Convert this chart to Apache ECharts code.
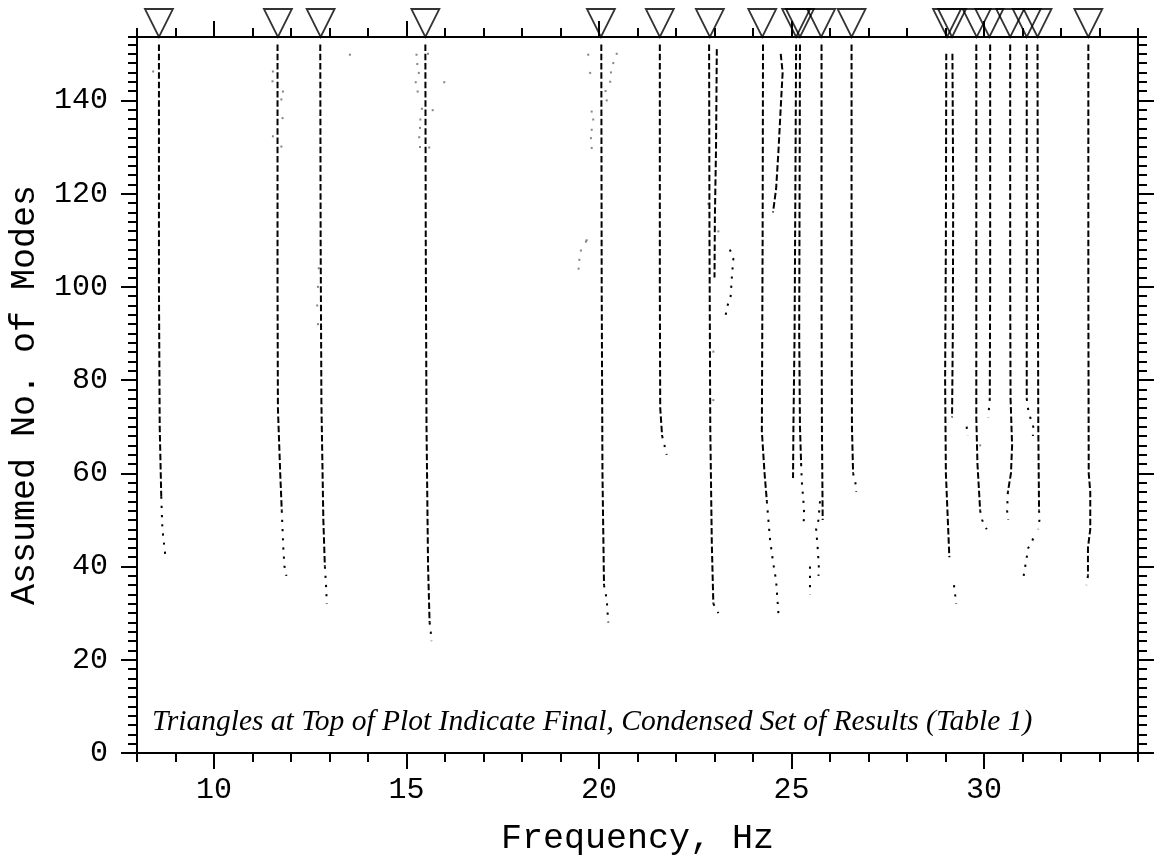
<!DOCTYPE html>
<html>
<head>
<meta charset="utf-8">
<title>Assumed No. of Modes vs Frequency</title>
<script src="https://cdn.jsdelivr.net/npm/echarts@6.0.0/dist/echarts.min.js"></script>
<style>
  html, body { margin: 0; padding: 0; background: #fff; }
  #chart { width: 1154px; height: 860px; }
</style>
</head>
<body>
<div id="chart"></div>
<script>
// axis ranges and labelled ticks
var xMin = 8, xMax = 34;
var yMin = 0, yMax = 153.6;
var xMajorTicks = [10, 15, 20, 25, 30];
var yMajorTicks = [0, 20, 40, 60, 80, 100, 120, 140];

// final condensed set of results (triangles at top)
var finalFreqs = [8.57, 11.66, 12.77, 15.49, 20.05, 21.58, 22.88, 24.24, 25.12, 25.22,
                  25.77, 26.56, 29.04, 29.17, 29.81, 30.14, 30.68, 31.11, 31.39, 32.71];

// mode traces [frequency Hz, assumed no. of modes]; trace = converged (dashed), tail = dotted
var traceA = [[8.57,152],[8.57,100],[8.59,70],[8.63,55]];
var tailA  = [[8.63,55],[8.66,48],[8.70,45],[8.74,42]];
var traceB = [[11.65,152],[11.65,100],[11.66,74],[11.72,60],[11.76,52]];
var tailB  = [[11.76,52],[11.80,44],[11.83,40],[11.88,38]];
var traceC = [[12.76,152],[12.77,110],[12.79,75],[12.84,50],[12.88,40]];
var tailC  = [[12.88,40],[12.91,36],[12.93,32]];
var traceD = [[15.49,152],[15.50,110],[15.52,70],[15.56,40],[15.60,28]];
var tailD  = [[15.60,28],[15.63,26],[15.65,24]];
var traceE = [[20.06,152],[20.07,100],[20.09,60],[20.13,36]];
var tailE  = [[20.13,36],[20.20,33],[20.24,28]];
var traceF = [[21.58,152],[21.58,100],[21.59,74],[21.64,68]];
var tailF  = [[21.64,68],[21.70,66],[21.76,64]];
var traceG = [[22.86,152],[22.87,110],[22.89,70],[22.93,45],[22.97,32]];
var tailG  = [[22.97,32],[23.04,31],[23.10,30]];
var traceG2 = [[23.06,151],[23.04,130],[23.01,115],[23.00,102]];
var tailG3 = [[23.40,108],[23.49,106],[23.45,102],[23.42,98],[23.34,96],[23.29,94]];
var traceH = [[24.26,152],[24.25,110],[24.23,69],[24.30,60],[24.36,54]];
var tailH  = [[24.36,54],[24.44,46],[24.52,41],[24.60,37],[24.66,30]];
var traceI = [[24.72,150],[24.77,146],[24.73,140],[24.66,129],[24.60,121],[24.52,116]];
var traceJ = [[25.12,152],[25.10,120],[25.08,90],[25.05,70],[25.04,59]];
var traceK = [[25.22,152],[25.21,120],[25.20,90],[25.22,70],[25.25,62]];
var tailK  = [[25.25,62],[25.27,58],[25.31,54],[25.33,51],[25.31,49]];
var traceL = [[25.78,152],[25.78,100],[25.79,70],[25.81,50]];
var tailL  = [[25.74,54],[25.70,50],[25.64,48],[25.68,44],[25.71,40],[25.70,38]];
var tailL2 = [[25.48,40],[25.48,36],[25.48,34]];
var traceM = [[26.56,152],[26.56,100],[26.57,70],[26.60,60]];
var tailM  = [[26.60,60],[26.66,58],[26.68,56]];
var traceN1 = [[29.02,150],[29.01,110],[28.99,80],[29.01,60],[29.06,50],[29.10,42]];
var traceN2 = [[29.18,150],[29.20,120],[29.19,90],[29.17,72]];
var tailN2 = [[29.22,36],[29.25,34],[29.28,32]];
var traceO = [[29.80,152],[29.80,100],[29.80,72],[29.83,62],[29.90,52]];
var tailO  = [[29.90,52],[29.95,50],[30.07,48]];
var tailO2 = [[29.55,70],[29.57,68]];
var traceP = [[30.16,152],[30.16,100],[30.15,76]];
var tailP  = [[30.15,76],[30.13,74],[30.11,72]];
var traceQ = [[30.68,152],[30.68,100],[30.69,76],[30.73,66],[30.70,60],[30.62,56]];
var tailQ  = [[30.62,56],[30.60,52],[30.63,50]];
var traceR = [[31.11,152],[31.11,100],[31.11,76]];
var tailR  = [[31.11,76],[31.14,74],[31.20,72],[31.28,70],[31.27,68]];
var tailR2 = [[31.28,46],[31.15,44],[31.03,38]];
var traceS = [[31.39,152],[31.40,100],[31.41,70],[31.43,52]];
var tailS  = [[31.43,52],[31.44,50],[31.41,48]];
var traceT = [[32.71,152],[32.71,100],[32.72,60],[32.76,56],[32.76,48],[32.70,44],[32.70,38]];
var tailT  = [[32.70,38],[32.66,36]];

// scattered unmatched roots
var strayPts = [[8.42,146.2],[11.53,146.2],[11.52,144.1],[11.79,141.9],[11.75,140.2],[11.78,136.2],
  [11.53,132.3],[11.75,130.1],[13.53,149.8],[12.70,100],[12.68,96],[12.70,92],[12.72,104],
  [15.26,149.8],[15.28,147.8],[15.32,145.9],[15.24,143.9],[15.29,141.9],[15.40,138.2],[15.36,135.9],
  [15.35,134.1],[15.33,132.1],[15.35,130.0],[15.59,129.9],[15.56,150.0],[15.98,143.9],[15.68,137.9],
  [20.46,150],[20.37,148],[20.31,146],[20.29,144],[20.17,142],[20.20,140],
  [19.72,149.8],[19.77,145.9],[19.81,137.6],[19.85,135.9],[19.81,133.7],[19.79,131.9],[19.81,129.8],
  [19.68,110],[19.66,109.7],[19.53,107.8],[19.49,105.8],[19.47,103.9],
  [22.97,86.1],[22.97,75.7],[23.10,111.9],[22.84,117.8],[29.90,66]];

var traces = [traceA, traceB, traceC, traceD, traceE, traceF, traceG, traceG2, traceH, traceI,
              traceJ, traceK, traceL, traceM, traceN1, traceN2, traceO, traceP, traceQ, traceR,
              traceS, traceT];
var tails = [tailA, tailB, tailC, tailD, tailE, tailF, tailG, tailG3, tailH, tailK, tailL, tailL2,
             tailM, tailN2, tailO, tailO2, tailP, tailQ, tailR, tailR2, tailS, tailT];

var monoFont = 'Liberation Mono';
var axisColor = '#000';

function xAxisCfg(pos, major) {
  var a = {
    type: 'value', position: pos, min: xMin, max: xMax,
    axisLine: { show: !major, onZero: false, lineStyle: { color: axisColor, width: 2 } },
    splitLine: { show: false },
    axisLabel: { show: false },
    axisTick: { show: true, inside: false, length: major ? 16 : 9, lineStyle: { color: axisColor, width: 2 } }
  };
  if (major) {
    a.axisTick.customValues = xMajorTicks;
  } else {
    a.interval = 1;
  }
  return a;
}

function yAxisCfg(pos, major) {
  var a = {
    type: 'value', position: pos, min: yMin, max: yMax,
    axisLine: { show: !major, onZero: false, lineStyle: { color: axisColor, width: 2 } },
    splitLine: { show: false },
    axisLabel: { show: false },
    axisTick: { show: true, inside: false, length: major ? 16 : 9, lineStyle: { color: axisColor, width: 2 } }
  };
  if (major) {
    a.axisTick.customValues = yMajorTicks;
  } else {
    a.interval = 2;
  }
  return a;
}

var xAxes = [xAxisCfg('bottom', false), xAxisCfg('bottom', true), xAxisCfg('top', false), xAxisCfg('top', true)];
xAxes[0].name = 'Frequency, Hz';
xAxes[0].nameLocation = 'middle';
xAxes[0].nameGap = 68;
xAxes[0].nameTextStyle = { fontFamily: monoFont, fontSize: 35, color: '#000' };
xAxes[1].axisLabel = { show: true, customValues: xMajorTicks, margin: 22,
  fontFamily: monoFont, fontSize: 30, color: '#000' };

var yAxes = [yAxisCfg('left', false), yAxisCfg('left', true), yAxisCfg('right', false), yAxisCfg('right', true)];
yAxes[0].name = 'Assumed No. of Modes';
yAxes[0].nameLocation = 'middle';
yAxes[0].nameRotate = 90;
yAxes[0].nameGap = 95;
yAxes[0].nameTextStyle = { fontFamily: monoFont, fontSize: 35, color: '#000' };
yAxes[1].axisLabel = { show: true, customValues: yMajorTicks, margin: 29,
  fontFamily: monoFont, fontSize: 30, color: '#000' };

var series = [];
traces.forEach(function (t) {
  series.push({
    type: 'line', data: t, showSymbol: false, silent: true,
    lineStyle: { color: '#000', width: 2, type: [6.5, 2.8] }
  });
});
tails.forEach(function (t) {
  series.push({
    type: 'line', data: t, showSymbol: false, silent: true,
    lineStyle: { color: '#000', width: 2, type: [2.2, 7] }
  });
});
series.push({
  type: 'scatter', data: strayPts, symbol: 'rect', symbolSize: [2, 2], silent: true,
  itemStyle: { color: '#666' }
});
series.push({
  type: 'scatter', clip: false, silent: true, z: 10,
  data: finalFreqs.map(function (f) { return [f, yMax]; }),
  symbol: 'path://M0,0 L28,0 L14,28 Z', symbolSize: [28, 28], symbolOffset: [0, -14],
  itemStyle: { color: 'rgba(0,0,0,0)', borderColor: '#000', borderWidth: 1.8 }
});

var chart = echarts.init(document.getElementById('chart'));
chart.setOption({
  animation: false,
  backgroundColor: '#fff',
  grid: { left: 137, right: 16, top: 37, bottom: 107, outerBoundsMode: 'none' },
  xAxis: xAxes,
  yAxis: yAxes,
  graphic: [{
    type: 'text', left: 152, top: 707, silent: true,
    style: {
      text: 'Triangles at Top of Plot Indicate Final, Condensed Set of Results (Table 1)',
      font: 'italic 29.5px "Liberation Serif"', fill: '#000'
    }
  }],
  series: series
});
</script>
</body>
</html>
